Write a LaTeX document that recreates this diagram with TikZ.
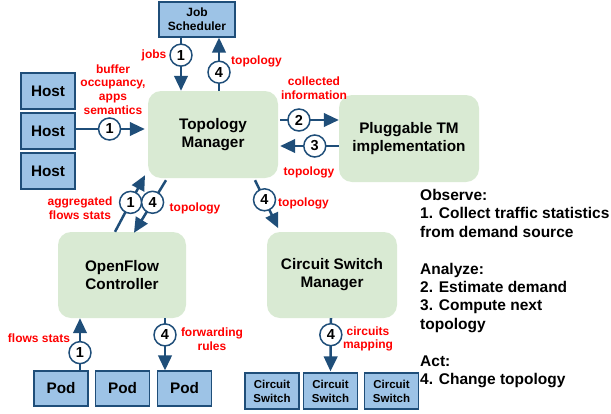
\documentclass[tikz,border=0pt]{standalone}
\usepackage{fontspec}
\setmainfont{Liberation Sans}
\usetikzlibrary{arrows.meta}
\definecolor{navy}{HTML}{1F4E79}
\definecolor{boxblue}{HTML}{9DC3E6}
\definecolor{mgrgreen}{HTML}{D9EAD3}
\definecolor{lblred}{HTML}{FF0000}
\begin{document}
\begin{tikzpicture}[x=1pt,y=-1pt,
  unit/.style={draw=navy, fill=boxblue, line width=1.2pt, inner sep=0pt, align=center,
    font=\bfseries\fontsize{15.3}{18}\selectfont},
  smallunit/.style={unit, font=\bfseries\fontsize{11.5}{14}\selectfont},
  mgr/.style={fill=mgrgreen, rounded corners=13pt, inner sep=0pt, align=center,
    font=\bfseries\fontsize{15.3}{18}\selectfont},
  flow/.style={draw=navy, line width=2.5pt, -{Triangle[length=15pt,width=13.5pt]}},
  num/.style={circle, draw=navy, fill=white, line width=1.5pt, minimum size=22pt,
    inner sep=0pt, font=\bfseries\fontsize{14.5}{14.5}\selectfont, text=black},
  lbl/.style={text=lblred, inner sep=0pt, align=center,
    font=\bfseries\fontsize{12}{13.7}\selectfont},
  notes/.style={inner sep=0pt, align=left, font=\bfseries\fontsize{15.5}{18.4}\selectfont}]
\useasboundingbox (0,0) rectangle (611,413);

% demand sources and consumers
\node[smallunit, minimum width=76pt, minimum height=35pt, font=\bfseries\fontsize{12}{14}\selectfont] (js) at (197,19.5) {Job\\Scheduler};
\node[unit, minimum width=54pt, minimum height=36pt] (h1) at (48,91) {Host};
\node[unit, minimum width=54pt, minimum height=36pt] (h2) at (48,131) {Host};
\node[unit, minimum width=54pt, minimum height=36pt] (h3) at (48,171) {Host};

% managers
\node[mgr, minimum width=130pt, minimum height=87pt] (tm) at (213,134.5) {Topology\\Manager};
\node[mgr, minimum width=140pt, minimum height=87pt] (ptm) at (409,138.5) {Pluggable TM\\implementation};
\node[mgr, minimum width=128pt, minimum height=86pt] (ofc) at (122,275) {OpenFlow\\Controller};
\node[mgr, minimum width=130pt, minimum height=86pt] (csm) at (332,275) {Circuit Switch\\Manager};

% pods and circuit switches
\node[unit, minimum width=54pt, minimum height=35pt] (p1) at (61,388.5) {Pod};
\node[unit, minimum width=54pt, minimum height=35pt] (p2) at (122.5,388.5) {Pod};
\node[unit, minimum width=54pt, minimum height=35pt] (p3) at (184.5,388.5) {Pod};
\node[smallunit, minimum width=54pt, minimum height=36pt] (cs1) at (272,391) {Circuit\\Switch};
\node[smallunit, minimum width=54pt, minimum height=36pt] (cs2) at (330.5,391) {Circuit\\Switch};
\node[smallunit, minimum width=54pt, minimum height=36pt] (cs3) at (391.5,391) {Circuit\\Switch};

% job scheduler <-> topology manager
\draw[flow] ([xshift=-16pt]js.south) -- node[num, pos=0.33] (n1a) {1} ([xshift=-32pt]tm.north);
\draw[flow] ([xshift=6pt]tm.north) -- node[num, pos=0.35] (n4a) {4} ([xshift=22pt]js.south);
\node[lbl] (ljobs) at (154,55) {jobs};
\node[lbl] (ltopa) at (256.5,61) {topology};

% hosts -> topology manager
\draw[flow, shorten >=3pt] ([yshift=2pt]h2.east) -- node[num, pos=0.47] (n1b) {1} ([yshift=5.5pt]tm.west);
\node[lbl] (lbuf) at (113,89.5) {buffer\\occupancy,\\apps\\semantics};

% topology manager <-> pluggable TM
\draw[flow] ([xshift=2pt,yshift=14.5pt]tm.east) -- node[num, pos=0.32] (n2) {2} ([yshift=18.5pt]ptm.west);
\draw[flow] ([yshift=-7.5pt]ptm.west) -- node[num, pos=0.41] (n3) {3} ([xshift=2pt,yshift=-11.5pt]tm.east);
\node[lbl] (lcoll) at (314,88) {collected\\information};
\node[lbl] (ltopb) at (309,172) {topology};

% topology manager -> circuit switch manager
\draw[flow, shorten >=4pt] ([xshift=42pt,yshift=-2pt]tm.south) -- node[num, pos=0.38] (n4b) {4} ([xshift=-52pt]csm.north);
\node[lbl] (ltopc) at (303.5,203) {topology};

% openflow controller <-> topology manager
\draw[flow] ([xshift=-7pt]ofc.north) -- node[num, pos=0.52] (n1c) {1} ([xshift=-68pt,yshift=3pt]tm.south);
\draw[flow] ([xshift=-47pt,yshift=-2pt]tm.south) -- node[num, pos=0.42] (n4c) {4} ([xshift=12pt,yshift=-1pt]ofc.north);
\node[lbl] (lagg) at (80,208.5) {aggregated\\flows stats};
\node[lbl] (ltopd) at (195,208) {topology};

% pods <-> openflow controller
\draw[flow] ([xshift=19pt]p1.north) -- node[num, pos=0.34] (n1d) {1} ([xshift=-42pt]ofc.south);
\draw[flow] ([xshift=43pt]ofc.south) -- node[num, pos=0.32] (n4d) {4} ([xshift=-19.5pt]p3.north);
\node[lbl] (lflows) at (39,338) {flows stats};
\node[lbl] (lfwd) at (212,339) {forwarding\\rules};

% circuit switch manager -> circuit switches
\draw[flow] ([xshift=-1pt]csm.south) -- node[num, pos=0.31] (n4e) {4} ([yshift=1pt]cs2.north);
\node[lbl] (lcirc) at (368,339) {circuits\\mapping};

% observe / analyze / act
\node[notes, anchor=north west] (obs) at (420,189) {Observe:\\1. Collect traffic statistics\\from demand source\\[18.4pt]Analyze:\\2. Estimate demand\\3. Compute next\\topology\\[18.4pt]Act:\\4. Change topology};
\end{tikzpicture}
\end{document}
